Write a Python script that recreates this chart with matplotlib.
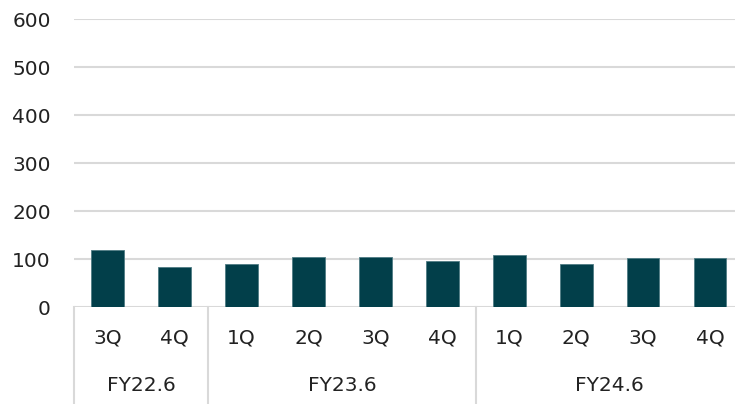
import matplotlib
matplotlib.use("Agg")
from matplotlib import pyplot as plt
from matplotlib import transforms

quarters = ['3Q', '4Q', '1Q', '2Q', '3Q', '4Q', '1Q', '2Q', '3Q', '4Q']
values = [119, 84, 90, 104, 104, 97, 108, 90, 102, 102]
years = ['FY22.6', 'FY23.6', 'FY24.6']
year_sizes = [2, 4, 4]
yticks = [0, 100, 200, 300, 400, 500, 600]

bar_color = '#023f4a'
grid_color = '#d9d9d9'
text_color = '#222222'
fsize = 14.5

fig = plt.figure(figsize=(7.35, 4.04), dpi=100)
# axes extends a little past the right edge, like the cropped original
ax = fig.add_axes([74.4 / 735, (404 - 307.3) / 404, (743.4 - 74.4) / 735, 288 / 404])

x = list(range(len(values)))
ax.bar(x, values, width=0.49, color=bar_color, edgecolor='#4f7c84', linewidth=0.6, zorder=3)

ax.set_xlim(-0.5, len(values) - 0.5)
ax.set_ylim(0, 600)
ax.set_yticks(yticks)
ax.set_yticklabels([str(v) for v in yticks], fontsize=fsize, color=text_color)
ax.tick_params(axis='y', length=0, pad=17)
ax.set_xticks([])
for v in yticks:
    ax.axhline(v, color=grid_color, linewidth=1.5, zorder=1)
for s in ax.spines.values():
    s.set_visible(False)

# two-level category axis
trans = transforms.blended_transform_factory(ax.transData, ax.transAxes)
for i, q in enumerate(quarters):
    ax.text(i, -0.107, q, transform=trans, ha='center', va='center',
            fontsize=fsize, color=text_color)

start = -0.5
for name, n in zip(years, year_sizes):
    ax.plot([start, start], [0, -0.34], transform=trans, color=grid_color,
            linewidth=1.5, clip_on=False)
    ax.text(start + n / 2, -0.27, name, transform=trans, ha='center', va='center',
            fontsize=fsize, color=text_color)
    start += n

fig.savefig('out.png', dpi=100)
